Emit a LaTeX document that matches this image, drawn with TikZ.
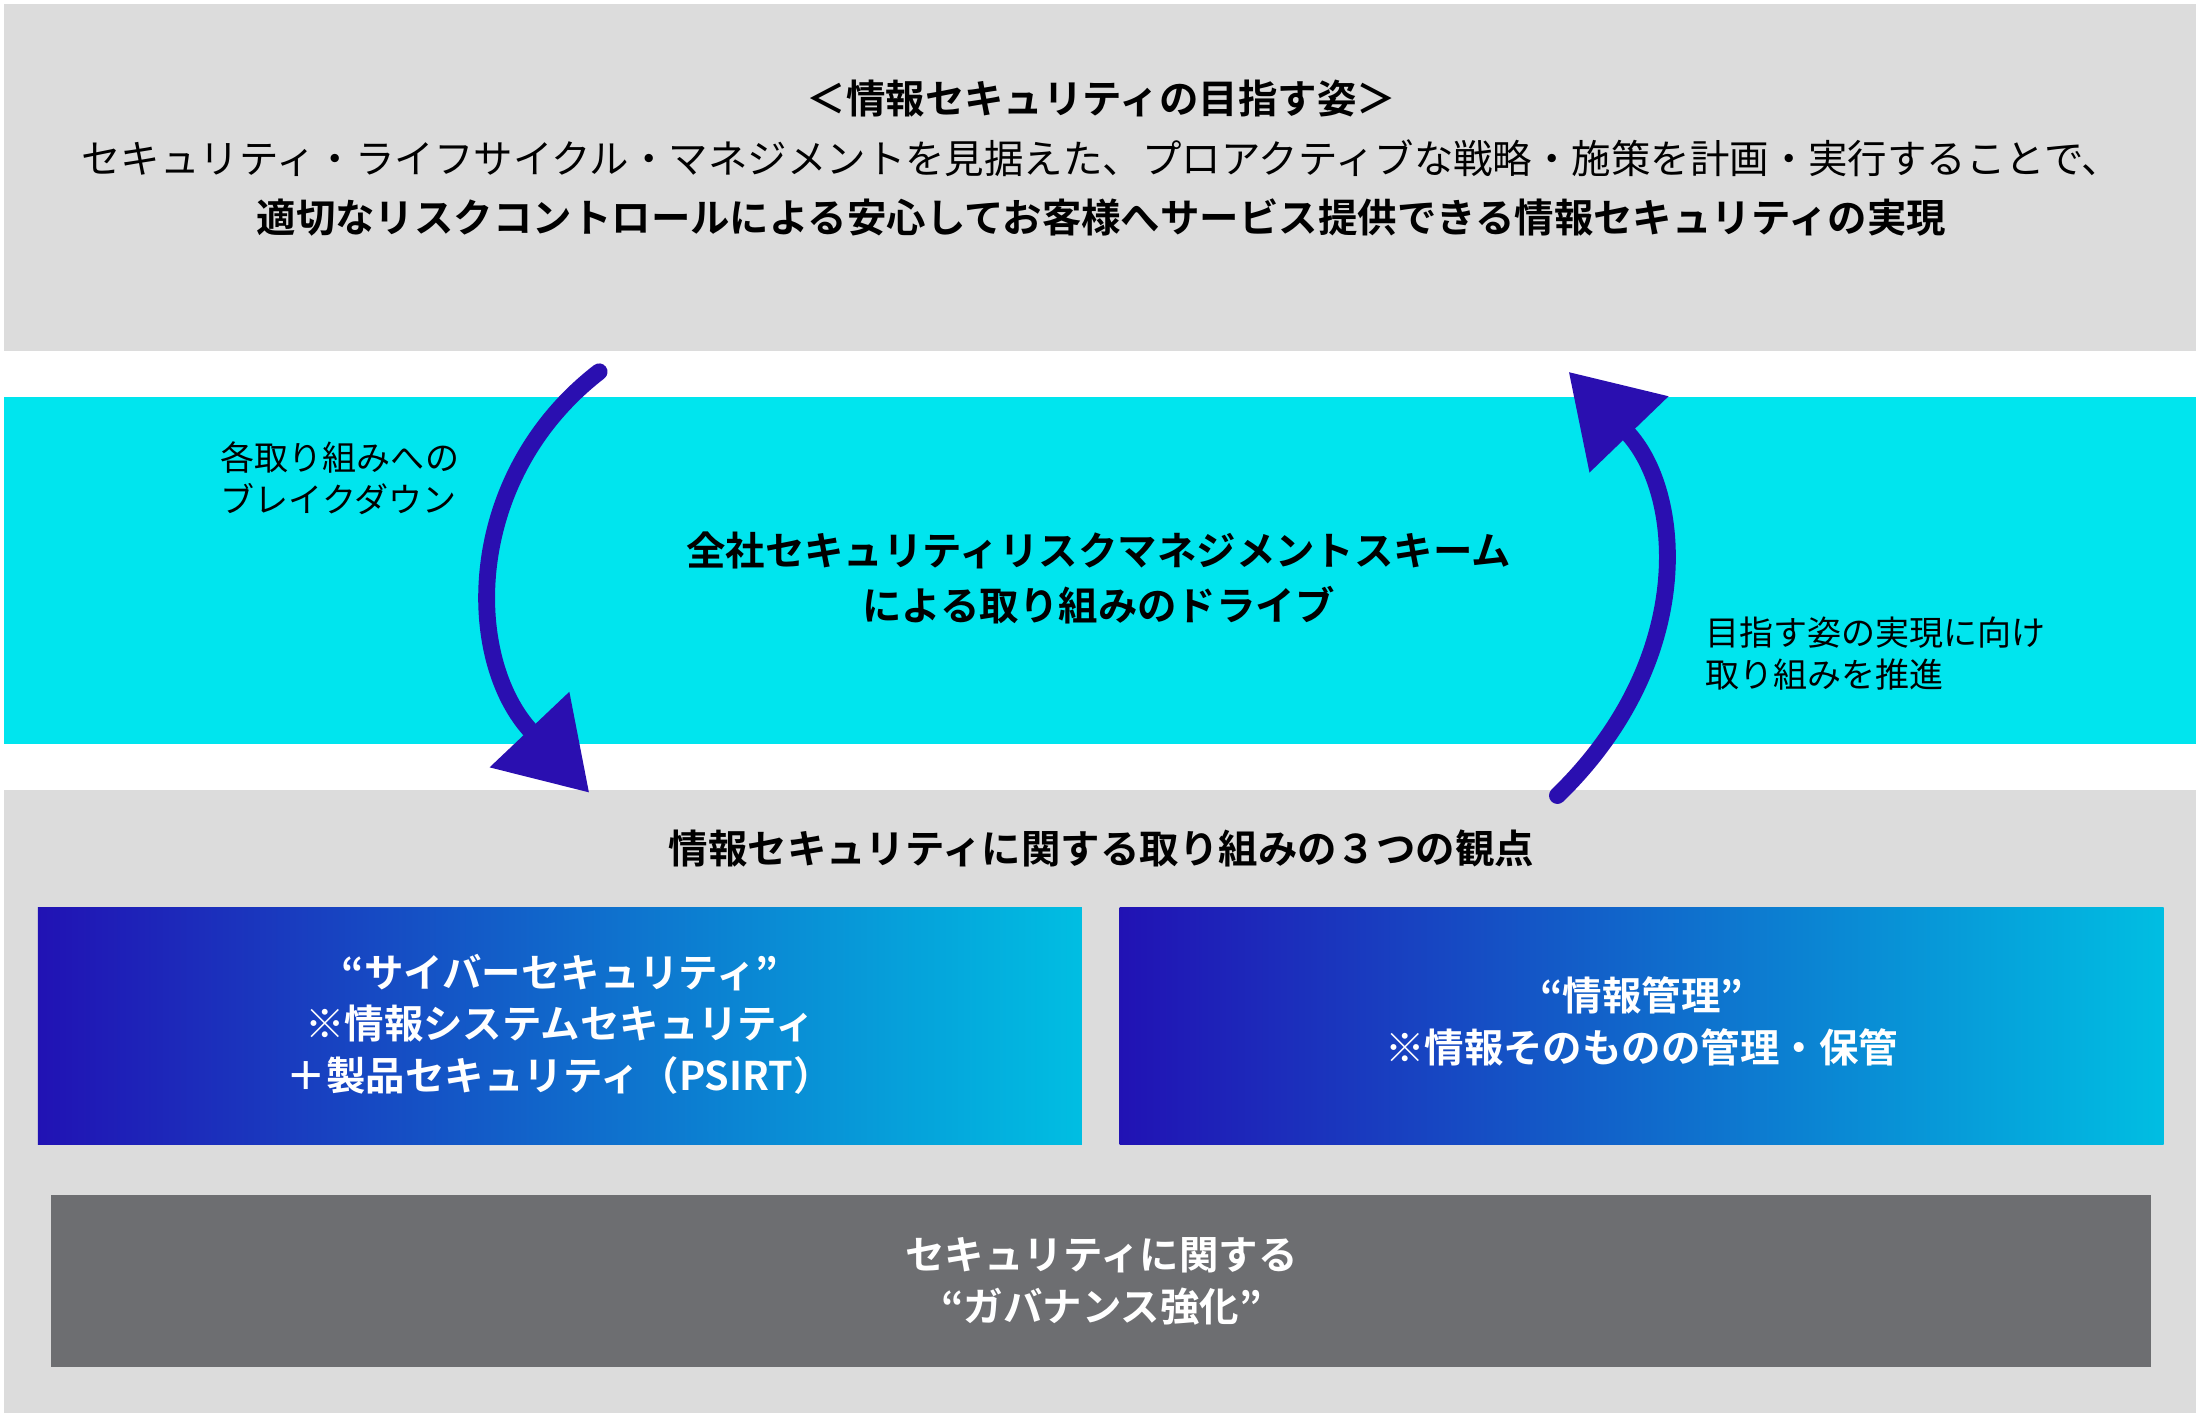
\documentclass[tikz,border=0pt]{standalone}
\usepackage{fontspec}
\setmainfont{Noto Sans CJK JP}[BoldFont={Noto Sans CJK JP Bold}]
\usetikzlibrary{arrows.meta}
\definecolor{panelgray}{HTML}{DCDCDC}
\definecolor{bandcyan}{HTML}{00E5EE}
\definecolor{arrowblue}{HTML}{2A0FB0}
\definecolor{gradblue}{HTML}{2112B4}
\definecolor{gradcyan}{HTML}{00BEE2}
\definecolor{basegray}{HTML}{6D6E71}
\tikzset{
  panel/.style={fill=panelgray, draw=none},
  view/.style={left color=gradblue, right color=gradcyan, draw=none},
  headtext/.style={font=\fontsize{8}{11}\selectfont\bfseries, align=center},
  bodytext/.style={font=\fontsize{8}{11}\selectfont, align=center},
  labeltext/.style={font=\fontsize{6.9}{8.6}\selectfont, align=left, anchor=west},
  whitetext/.style={font=\fontsize{8}{10.5}\selectfont\bfseries, align=center, text=white},
  cycle/.style={line width=0.12cm, arrowblue, -{Triangle[length=0.62cm,width=0.75cm]}}
}
\begin{document}
\begin{tikzpicture}
  \useasboundingbox (0,-0.05) rectangle (15.68,10.10);
  % panels
  \fill[panel] (0.03,7.60) rectangle (15.65,10.07);
  \fill[bandcyan] (0.03,4.80) rectangle (15.65,7.27);
  \fill[panel] (0.03,0.03) rectangle (15.65,4.47);
  \shade[view] (0.27,1.94) rectangle (7.71,3.63);
  \shade[view] (7.98,1.94) rectangle (15.42,3.63);
  \fill[basegray] (0.36,0.36) rectangle (15.33,1.58);
  % texts
  \node[headtext] (goal) at (7.85,9.40) {＜情報セキュリティの目指す姿＞};
  \node[bodytext] (goalline) at (7.85,8.97) {セキュリティ・ライフサイクル・マネジメントを見据えた、プロアクティブな戦略・施策を計画・実行することで、};
  \node[headtext] (goalbold) at (7.85,8.55) {適切なリスクコントロールによる安心してお客様へサービス提供できる情報セキュリティの実現};
  \node[headtext] (scheme) at (7.83,5.98) {全社セキュリティリスクマネジメントスキーム\\による取り組みのドライブ};
  \node[labeltext] (down) at (1.45,6.69) {各取り組みへの\\ブレイクダウン};
  \node[labeltext] (up) at (12.03,5.44) {目指す姿の実現に向け\\取り組みを推進};
  \node[headtext] (views) at (7.85,4.05) {情報セキュリティに関する取り組みの３つの観点};
  \node[whitetext] (cyber) at (3.99,2.80) {“サイバーセキュリティ”\\※情報システムセキュリティ\\＋製品セキュリティ（PSIRT）};
  \node[whitetext] (info) at (11.70,2.82) {“情報管理”\\※情報そのものの管理・保管};
  \node[whitetext] (gov) at (7.85,0.97) {セキュリティに関する\\“ガバナンス強化”};
  % cycle arrows
  \coordinate (downstart) at (4.27,7.45);
  \coordinate (downend) at (4.20,4.45);
  \coordinate (upstart) at (11.10,4.43);
  \coordinate (upend) at (11.18,7.45);
  \draw[cycle, line cap=round] (downstart) .. controls (3.30,6.70) and (3.30,5.40) .. (downend);
  \draw[cycle, line cap=round] (upstart) .. controls (12.10,5.40) and (12.00,6.60) .. (upend);
\end{tikzpicture}
\end{document}
